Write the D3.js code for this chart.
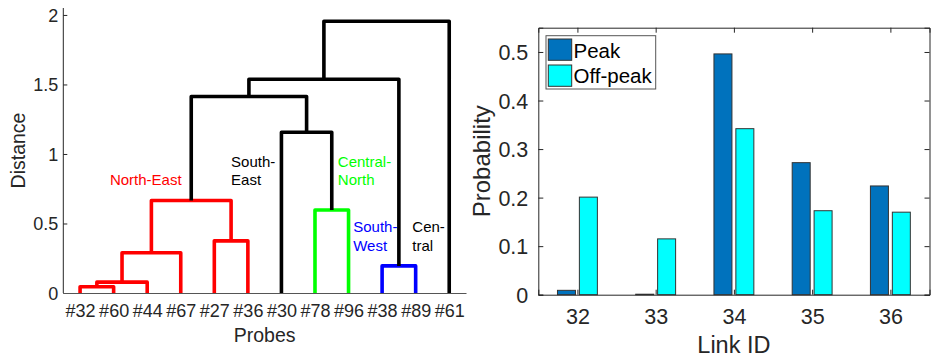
<!DOCTYPE html>
<html>
<head>
<meta charset="utf-8">
<script src="https://cdn.jsdelivr.net/npm/d3@7"></script>
<style>
  html, body { margin: 0; padding: 0; background: #fff; }
  svg { display: block; font-family: "Liberation Sans", Arial, Helvetica, sans-serif; }
</style>
</head>
<body>
<svg id="chart" width="935" height="358"></svg>
<script>
// ---------- Dendrogram data ----------
const probeLabels = ["#32","#60","#44","#67","#27","#36","#30","#78","#96","#38","#89","#61"];
// merges: [childA, childB] (1..12 = leaves, 13+ = earlier merges), MATLAB-linkage style
const mergeChildren = [[1,2],[13,3],[14,4],[5,6],[15,16],[8,9],[10,11],[7,18],[17,20],[21,19],[22,12]];
const mergeHeights  = [0.045, 0.078, 0.29, 0.375, 0.665, 0.597, 0.195, 1.156, 1.413, 1.538, 1.955];
const mergeColors   = ["#ff0000","#ff0000","#ff0000","#ff0000","#ff0000","#00ff00","#0000ff","#000000","#000000","#000000","#000000"];
const distTicks = [0, 0.5, 1, 1.5, 2];
// cluster annotations: text lines, colour, anchor (leaf position, distance)
const clusterNames  = [["North-East"], ["South-","East"], ["Central-","North"], ["South-","West"], ["Cen-","tral"]];
const clusterColors = ["#ff0000", "#000000", "#00ff00", "#0000ff", "#000000"];
const clusterAnchorX = [1.89, 5.5, 8.68, 9.14, 10.9];
const clusterAnchorY = [0.777, 0.909, 0.909, 0.437, 0.437];

// ---------- Bar chart data ----------
const linkIds = [32, 33, 34, 35, 36];
const peakValues    = [0.009, 0.001, 0.496, 0.272, 0.224];
const offPeakValues = [0.201, 0.115, 0.342, 0.173, 0.170];
const seriesNames = ["Peak", "Off-peak"];
const seriesColors = ["#0072bd", "#00ffff"];
const probTicks = [0, 0.1, 0.2, 0.3, 0.4, 0.5];

const svg = d3.select("#chart");
const axisCol = "#262626";

// ================= LEFT: dendrogram =================
const xL = d3.scaleLinear().domain([0.5, 12.5]).range([63.3, 466]);
const yL = d3.scaleLinear().domain([0, 2.05]).range([293, 8]);
const gL = svg.append("g");

// compute cluster positions
const posX = {}, posH = {};
probeLabels.forEach((p, i) => { posX[i + 1] = i + 1; posH[i + 1] = 0; });
mergeChildren.forEach((m, k) => {
  const id = probeLabels.length + 1 + k;
  posX[id] = (posX[m[0]] + posX[m[1]]) / 2;
  posH[id] = mergeHeights[k];
});

// links
mergeChildren.forEach((m, k) => {
  const h = mergeHeights[k];
  const [a, b] = m;
  const p = d3.path();
  p.moveTo(xL(posX[a]), yL(posH[a]));
  p.lineTo(xL(posX[a]), yL(h));
  p.lineTo(xL(posX[b]), yL(h));
  p.lineTo(xL(posX[b]), yL(posH[b]));
  gL.append("path").attr("d", p.toString())
    .attr("fill", "none").attr("stroke", mergeColors[k])
    .attr("stroke-width", 3.6).attr("stroke-linejoin", "round");
});

// y axis
const yAxisL = d3.axisLeft(yL).tickValues(distTicks).tickSize(-4).tickPadding(8)
  .tickFormat(d3.format("~g"));
const yaL = gL.append("g").attr("transform", `translate(${xL(0.5)},0)`).call(yAxisL);
yaL.select(".domain").attr("stroke", axisCol).attr("d", `M0,${yL(0)}V${yL(2.05)}`);
yaL.selectAll(".tick line").attr("stroke", axisCol);
yaL.selectAll(".tick text").attr("fill", axisCol).style("font-size", "18px")
  .attr("dy", "0.36em").attr("x", -5);

// x axis (baseline + leaf labels)
const xAxisL = d3.axisBottom(xL).tickValues(d3.range(1, 13)).tickSize(0).tickPadding(0)
  .tickFormat(i => probeLabels[i - 1]);
const xaL = gL.append("g").attr("transform", `translate(0,${yL(0)})`).call(xAxisL);
xaL.select(".domain").attr("stroke", "#555").attr("stroke-width", 1.2);
xaL.selectAll(".tick text").attr("fill", axisCol).style("font-size", "18px")
  .attr("y", 0).attr("dy", 0).attr("transform", "translate(0,23.7)");

// axis labels
gL.append("text").attr("x", (xL(0.5) + xL(12.5)) / 2).attr("y", 341.7)
  .attr("text-anchor", "middle").attr("fill", axisCol).style("font-size", "19.5px").text("Probes");
gL.append("text").attr("transform", `translate(24.5,${(yL(0) + yL(2.05)) / 2}) rotate(-90)`)
  .attr("text-anchor", "middle").attr("fill", axisCol).style("font-size", "19.5px").text("Distance");

// cluster annotations
clusterNames.forEach((lines, i) => {
  const t = gL.append("text").attr("fill", clusterColors[i]).style("font-size", "15px");
  lines.forEach((ln, j) => {
    t.append("tspan").attr("x", xL(clusterAnchorX[i])).attr("y", yL(clusterAnchorY[i]) + j * 18.5).text(ln);
  });
});

// ================= RIGHT: bar chart =================
const xR = d3.scaleLinear().domain([31.5, 36.5]).range([538.3, 929.5]);
const yR = d3.scaleLinear().domain([0, 0.55]).range([294.7, 27.7]);
const gR = svg.append("g");

const barW = 0.23, barOff = 0.14;
const series = [peakValues, offPeakValues];
series.forEach((vals, s) => {
  gR.append("g").selectAll("rect").data(vals).join("rect")
    .attr("x", (d, i) => xR(linkIds[i] + (s === 0 ? -barOff : barOff) - barW / 2))
    .attr("width", xR(31.5 + barW) - xR(31.5))
    .attr("y", d => yR(d))
    .attr("height", d => yR(0) - yR(d))
    .attr("fill", seriesColors[s])
    .attr("stroke", "#333").attr("stroke-width", 1);
});

// axes (box with inward ticks on all sides)
const fmt = d3.format("~g");
const yAxR = gR.append("g").attr("transform", `translate(${xR(31.5)},0)`)
  .call(d3.axisLeft(yR).tickValues(probTicks).tickSize(-5).tickPadding(10).tickFormat(fmt));
const yAxR2 = gR.append("g").attr("transform", `translate(${xR(36.5)},0)`)
  .call(d3.axisRight(yR).tickValues(probTicks).tickSize(-5).tickFormat(""));
const xAxR = gR.append("g").attr("transform", `translate(0,${yR(0)})`)
  .call(d3.axisBottom(xR).tickValues(linkIds).tickSize(-5).tickPadding(12).tickFormat(fmt));
const xAxR2 = gR.append("g").attr("transform", `translate(0,${yR(0.55)})`)
  .call(d3.axisTop(xR).tickValues(linkIds).tickSize(-5).tickFormat(""));
[yAxR, yAxR2, xAxR, xAxR2].forEach(a => {
  a.select(".domain").attr("stroke", axisCol);
  a.selectAll(".tick line").attr("stroke", axisCol);
  a.selectAll(".tick text").attr("fill", axisCol).style("font-size", "21.5px");
});
yAxR.selectAll(".tick text").attr("dy", "0.36em");
xAxR.selectAll(".tick text").attr("y", 0).attr("dy", 0).attr("transform", "translate(0,29.3)");

gR.append("text").attr("x", (xR(31.5) + xR(36.5)) / 2).attr("y", 353)
  .attr("text-anchor", "middle").attr("fill", axisCol).style("font-size", "23.5px").text("Link ID");
gR.append("text").attr("transform", `translate(490,${(yR(0) + yR(0.55)) / 2}) rotate(-90)`)
  .attr("text-anchor", "middle").attr("fill", axisCol).style("font-size", "24px").text("Probability");

// legend
const lg = gR.append("g");
lg.append("rect").attr("x", 546).attr("y", 35.7).attr("width", 109.7).attr("height", 53.3)
  .attr("fill", "#fff").attr("stroke", "#555").attr("stroke-width", 1);
seriesNames.forEach((name, i) => {
  lg.append("rect").attr("x", 548.3).attr("y", 39 + i * 26).attr("width", 23.4).attr("height", 21.3)
    .attr("fill", seriesColors[i]).attr("stroke", "#333").attr("stroke-width", 1);
  lg.append("text").attr("x", 573.5).attr("y", 58 + i * 24.5).attr("fill", "#000")
    .style("font-size", "20.5px").text(name);
});
</script>
</body>
</html>
